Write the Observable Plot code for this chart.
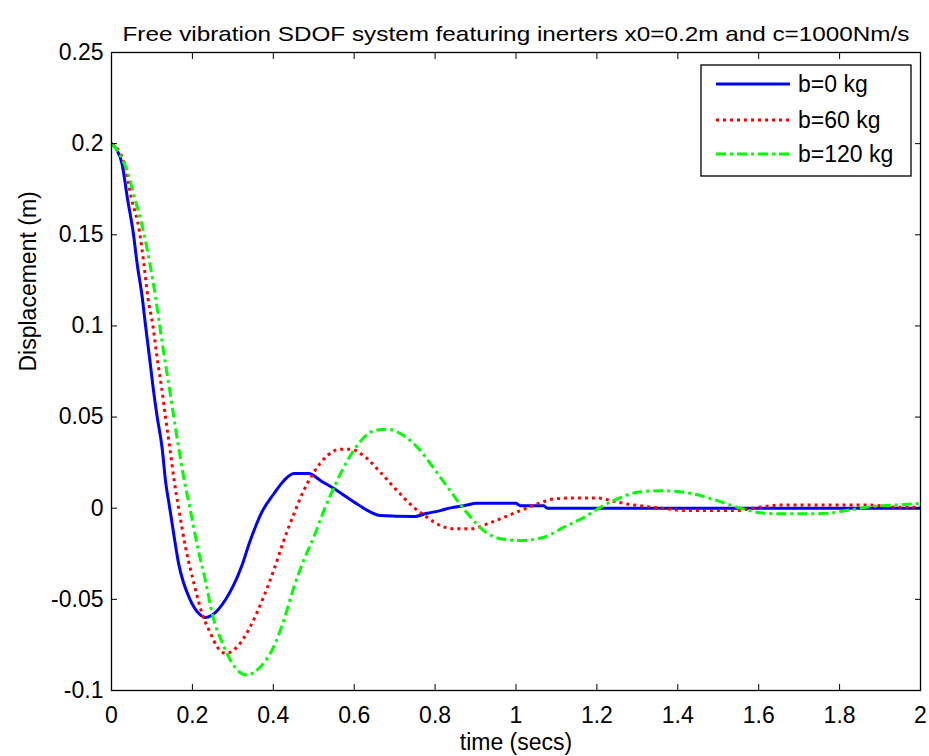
<!DOCTYPE html>
<html><head><meta charset="utf-8">
<script src="https://cdn.jsdelivr.net/npm/d3@7"></script>
<script src="https://cdn.jsdelivr.net/npm/@observablehq/plot@0.6"></script>
<style>
html,body{margin:0;padding:0;background:#fff;}
#chart{position:relative;width:929px;height:756px;}
</style></head><body><div id="chart"></div>
<script>
const title = "Free vibration SDOF system featuring inerters x0=0.2m and c=1000Nm/s";
const xLabel = "time (secs)";
const yLabel = "Displacement (m)";
const seriesNames = ["b=0 kg", "b=60 kg", "b=120 kg"];
const seriesColors = ["#0000ff", "#ff0000", "#00ff00"];
const xTicks = [0, 0.2, 0.4, 0.6, 0.8, 1, 1.2, 1.4, 1.6, 1.8, 2];
const yTicks = [-0.1, -0.05, 0, 0.05, 0.1, 0.15, 0.2, 0.25];

// b = 0 kg
const tB0 = [0, 0.012, 0.026, 0.039, 0.054, 0.0635, 0.076, 0.084, 0.096, 0.103, 0.113, 0.125, 0.1335, 0.144, 0.1525, 0.166, 0.194, 0.216, 0.232, 0.248, 0.281, 0.321, 0.343, 0.372, 0.401, 0.426, 0.451, 0.488, 0.517, 0.558, 0.607, 0.665, 0.747, 0.780, 0.813, 0.838, 0.871, 0.904, 0.999, 1.011, 1.069, 1.077, 2.0];
const vB0 = [0.2, 0.197, 0.189, 0.1705, 0.1507, 0.134, 0.1156, 0.1005, 0.079, 0.066, 0.05, 0.0333, 0.015, 0, -0.0122, -0.0304, -0.05, -0.0578, -0.060, -0.0587, -0.0505, -0.0323, -0.0177, -0.002, 0.0078, 0.0151, 0.019, 0.019, 0.0151, 0.0096, 0.0023, -0.004, -0.0046, -0.0028, -0.0013, 0.0002, 0.0014, 0.0027, 0.0027, 0.0014, 0.0014, 0, 0];

// b = 60 kg
const tB60 = [0, 0.015, 0.032, 0.0487, 0.070, 0.080, 0.090, 0.102, 0.115, 0.124, 0.1335, 0.144, 0.155, 0.166, 0.183, 0.202, 0.224, 0.245, 0.261, 0.283, 0.311, 0.343, 0.376, 0.401, 0.426, 0.451, 0.475, 0.500, 0.533, 0.566, 0.591, 0.624, 0.665, 0.706, 0.747, 0.780, 0.813, 0.846, 0.888, 0.929, 0.970, 1.011, 1.052, 1.094, 1.135, 1.201, 1.234, 1.275, 1.324, 1.374, 1.42, 1.54, 1.60, 1.66, 1.87, 1.95, 2.0];
const vB60 = [0.2, 0.197, 0.189, 0.1705, 0.1507, 0.134, 0.1156, 0.1005, 0.079, 0.066, 0.05, 0.0333, 0.015, 0, -0.0214, -0.0396, -0.0578, -0.0687, -0.076, -0.0796, -0.076, -0.065, -0.0487, -0.0341, -0.0177, -0.0031, 0.0096, 0.0196, 0.0287, 0.0324, 0.0324, 0.0287, 0.0196, 0.0096, 0.0005, -0.005, -0.0095, -0.0113, -0.0113, -0.0086, -0.005, -0.0013, 0.0023, 0.0051, 0.0056, 0.0056, 0.0042, 0.0023, 0.0009, -0.0004, -0.0013, -0.0013, 0.0005, 0.0018, 0.0018, 0.0005, 0.0005];

// b = 120 kg
const tB120 = [0, 0.022, 0.037, 0.057, 0.080, 0.095, 0.109, 0.119, 0.1335, 0.143, 0.154, 0.166, 0.180, 0.194, 0.213, 0.232, 0.249, 0.278, 0.298, 0.335, 0.368, 0.401, 0.426, 0.451, 0.475, 0.500, 0.525, 0.550, 0.583, 0.616, 0.648, 0.682, 0.723, 0.764, 0.789, 0.822, 0.855, 0.888, 0.920, 0.962, 1.011, 1.069, 1.118, 1.168, 1.209, 1.250, 1.300, 1.357, 1.399, 1.440, 1.497, 1.547, 1.596, 1.646, 1.712, 1.769, 1.827, 1.876, 1.942, 2.0];
const vB120 = [0.2, 0.1935, 0.186, 0.1705, 0.1507, 0.134, 0.1156, 0.1005, 0.079, 0.066, 0.05, 0.0333, 0.015, 0, -0.0214, -0.0396, -0.0578, -0.076, -0.085, -0.0915, -0.087, -0.076, -0.0614, -0.0432, -0.0286, -0.0159, -0.0013, 0.0114, 0.026, 0.0369, 0.0424, 0.0433, 0.0397, 0.0315, 0.0242, 0.0142, 0.0042, -0.005, -0.0122, -0.0168, -0.0177, -0.0159, -0.0104, -0.005, 0.0005, 0.0051, 0.0087, 0.0096, 0.0092, 0.0078, 0.0042, 0.0005, -0.0022, -0.0031, -0.0031, -0.0028, -0.0009, 0.0009, 0.0018, 0.0027];

const toRows = (ts, vs) => ts.map((t, i) => ({t, v: vs[i]}));
const series = [toRows(tB0, vB0), toRows(tB60, vB60), toRows(tB120, vB120)];
const dashes = [null, "3,4", "10,4,3,4"];
const font = "'Liberation Sans', Arial, Helvetica, sans-serif";
const fmt = d => String(d);

const plot = Plot.plot({
  width: 929, height: 756,
  marginLeft: 111, marginRight: 9, marginTop: 52, marginBottom: 66,
  style: {fontFamily: font, fontSize: "23px", color: "#000", background: "#fff", overflow: "visible"},
  x: {domain: [0, 2]},
  y: {domain: [-0.1, 0.25]},
  marks: [
    ...series.map((rows, i) => Plot.line(rows, {
      x: "t", y: "v", stroke: seriesColors[i], strokeWidth: 3,
      strokeDasharray: dashes[i], strokeLinecap: "butt", strokeLinejoin: "round", curve: "monotone-x"
    })),
    Plot.frame({stroke: "#000", strokeWidth: 1.3}),
    Plot.axisX({anchor: "bottom", ticks: xTicks, tickSize: 0, tickPadding: 16, tickFormat: fmt, label: null, fontSize: 23}),
    Plot.axisY({anchor: "left", ticks: yTicks, tickSize: 0, tickPadding: 8, tickFormat: fmt, label: null, fontSize: 23}),
    Plot.axisX({anchor: "bottom", ticks: xTicks, tickSize: -6, tickFormat: () => "", label: null}),
    Plot.axisX({anchor: "top", ticks: xTicks, tickSize: -6, tickFormat: () => "", label: null}),
    Plot.axisY({anchor: "left", ticks: yTicks, tickSize: -6, tickFormat: () => "", label: null}),
    Plot.axisY({anchor: "right", ticks: yTicks, tickSize: -6, tickFormat: () => "", label: null}),
    Plot.text([title], {frameAnchor: "top", dy: -26, fontSize: 21, text: d => d, className: "ttl"}),
    Plot.text([xLabel], {frameAnchor: "bottom", dy: 59, fontSize: 23, text: d => d}),
    Plot.text([yLabel], {frameAnchor: "left", dx: -83, rotate: -90, fontSize: 23, text: d => d})
  ]
});
document.getElementById("chart").appendChild(plot);

const svg = d3.select(plot);
// stretch the title to the reference's width
svg.selectAll(".ttl text").attr("textLength", 787).attr("lengthAdjust", "spacingAndGlyphs");

// legend box inside the plot area (top-right)
const lg = svg.append("g").attr("font-family", font).attr("font-size", 23).attr("text-anchor", "start");
lg.append("rect").attr("x", 701).attr("y", 65).attr("width", 210).attr("height", 111)
  .attr("fill", "#fff").attr("stroke", "#000").attr("stroke-width", 1.3);
const rowY = [84, 120, 154];
seriesNames.forEach((name, i) => {
  lg.append("line").attr("x1", 716).attr("x2", 790).attr("y1", rowY[i]).attr("y2", rowY[i])
    .attr("stroke", seriesColors[i]).attr("stroke-width", 3)
    .attr("stroke-dasharray", dashes[i]);
  lg.append("text").attr("x", 798).attr("y", rowY[i]).attr("dy", "0.35em").attr("text-anchor", "start").text(name);
});
</script></body></html>
